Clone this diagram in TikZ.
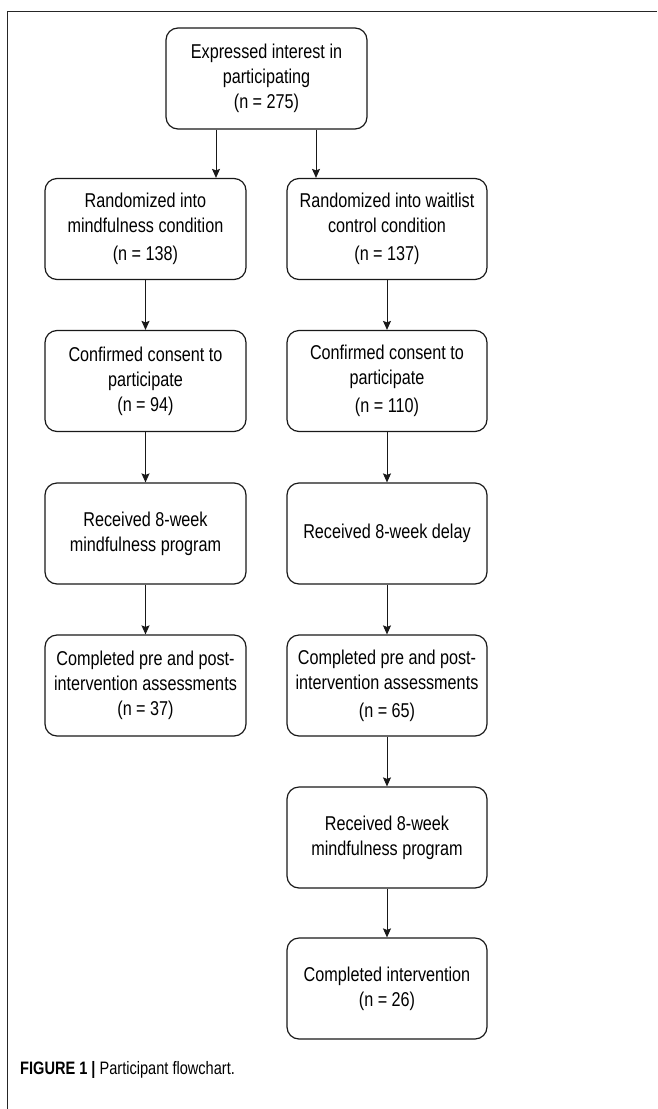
\documentclass[tikz,border=0pt]{standalone}
\usepackage{fontspec}
\setmainfont{Liberation Sans}[FakeStretch=0.81]
\usetikzlibrary{arrows.meta}
\begin{document}
\begin{tikzpicture}[x=1pt,y=1pt,
  box/.style={draw=black!90, line width=1.2pt, rounded corners=12pt, minimum width=201pt, minimum height=101pt, align=center, inner sep=0pt, font=\fontsize{20}{25}\selectfont, text=black},
  arr/.style={draw=black!90, line width=1pt, -{Stealth[length=9pt,width=8pt,inset=1.5pt]}}]
\useasboundingbox (0,0) rectangle (657,-1109);
\draw[line width=1pt, black!85] (657,-11) -- (7,-11) -- (7,-1109);
\node[box] (top) at (266.5,-78.5) {Expressed interest in\\participating\\(n = 275)};
\node[box] (l1) at (145.5,-229) {Randomized into\\mindfulness condition\\[3pt](n = 138)};
\node[box, minimum width=200pt] (r1) at (387,-229) {Randomized into waitlist\\control condition\\[3pt](n = 137)};
\node[box] (l2) at (145.5,-381) {Confirmed consent to\\participate\\(n = 94)};
\node[box, minimum width=200pt] (r2) at (387,-381) {Confirmed consent to\\participate\\[3pt](n = 110)};
\node[box] (l3) at (145.5,-533.5) {Received 8-week\\mindfulness program};
\node[box, minimum width=200pt] (r3) at (387,-533.5) {Received 8-week delay};
\node[box] (l4) at (145.5,-685.5) {Completed pre and post-\\intervention assessments\\(n = 37)};
\node[box, minimum width=200pt] (r4) at (387,-685.5) {Completed pre and post-\\intervention assessments\\[3pt](n = 65)};
\node[box, minimum width=200pt] (r5) at (387,-837.5) {Received 8-week\\mindfulness program};
\node[box, minimum width=200pt] (r6) at (387,-988.5) {Completed intervention\\(n = 26)};
\draw[arr] ([xshift=-50.5pt]top.south) -- ([xshift=-50.5pt]top.south |- l1.north);
\draw[arr] ([xshift=49.5pt]top.south) -- ([xshift=49.5pt]top.south |- r1.north);
\draw[arr] (l1) -- (l2);
\draw[arr] (l2) -- (l3);
\draw[arr] (l3) -- (l4);
\draw[arr] (r1) -- (r2);
\draw[arr] (r2) -- (r3);
\draw[arr] (r3) -- (r4);
\draw[arr] (r4) -- (r5);
\draw[arr] (r5) -- (r6);
\node[anchor=west, inner sep=0pt, font=\fontsize{18}{20}\selectfont, text=black] (cap) at (20,-1070) {\textbf{FIGURE 1 |} Participant flowchart.};
\end{tikzpicture}
\end{document}
